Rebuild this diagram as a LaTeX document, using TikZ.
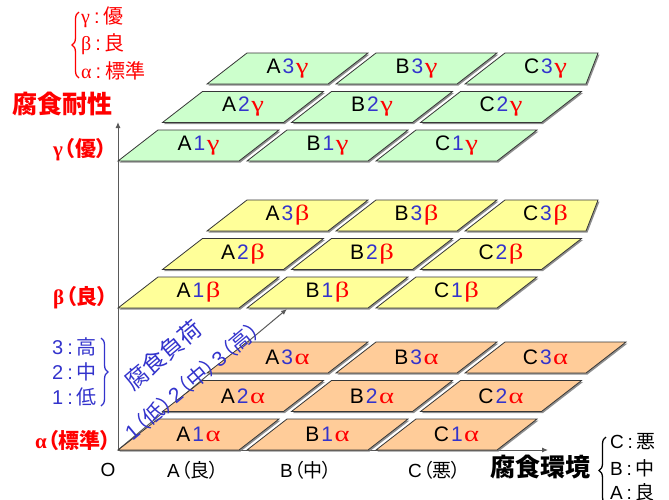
\documentclass[tikz,border=0pt]{standalone}
\usepackage{fontspec}
\setmainfont{Liberation Sans}
\newfontfamily\jp[RawFeature=+palt]{Noto Sans CJK JP}
\newfontfamily\gk{Liberation Serif}
\usetikzlibrary{shadows,decorations.pathreplacing,arrows.meta}
\definecolor{cgreen}{RGB}{204,255,204}
\definecolor{cyellow}{RGB}{255,255,153}
\definecolor{corange}{RGB}{255,204,153}
\definecolor{dblue}{RGB}{51,51,204}
\definecolor{edgegray}{RGB}{55,55,55}
\newcommand\mycell[8]{%
  \filldraw[cellbox, fill=#4] (#2,#3) -- ++(121,0) -- ++(#8,-31) -- (#2+40,#3-31) -- cycle;
  \node[celltext] (#1) at (#2+80.5,#3-15.5) {#5\hspace{2pt}\textcolor{dblue}{#6}\hspace{1.5pt}{\gk\fontsize{22}{22}\selectfont\textcolor{red}{\scalebox{1.3}[1]{#7}}}};}
\begin{document}
\begin{tikzpicture}[x=1pt,y=-1pt,
  cellbox/.style={draw=edgegray, line width=0.8pt,
    drop shadow={shadow xshift=1.5pt, shadow yshift=-1.5pt, fill=black!55, opacity=0.8}},
  celltext/.style={font=\fontsize{21}{21}\selectfont, inner sep=0pt},
  axisline/.style={draw=black!65, line width=1pt, -{Latex[length=6pt,width=5pt]}},
  redlab/.style={text=red, font=\jp\bfseries\fontsize{21}{21}\selectfont, inner sep=0pt, anchor=west},
  botlab/.style={text=black, font=\fontsize{19}{19}\selectfont, inner sep=0pt, anchor=west},
  legred/.style={text=red, font=\fontsize{20}{20}\selectfont, inner sep=0pt, anchor=west},
  legblue/.style={text=dblue, font=\fontsize{20}{20}\selectfont, inner sep=0pt, anchor=west},
  legblack/.style={text=black, font=\fontsize{19}{19}\selectfont, inner sep=0pt, anchor=west},
  bigtitle/.style={font=\jp\bfseries\fontsize{25}{25}\selectfont, inner sep=0pt},
  bracestyle/.style={decorate, decoration={brace, amplitude=7pt}, line width=1.3pt}
]
\useasboundingbox (0,0) rectangle (669,499);
% axes
\coordinate (O) at (118,450);
\coordinate (ytop) at (118,122);
\coordinate (xend) at (548,450);
\coordinate (dend) at (287,309);
\draw[axisline] (O) -- (ytop);
\draw[axisline] (O) -- (xend);
\draw[axisline] (O) -- (dend);
% cells
\foreach \lay/\gr/\fc/\yb/\cs in {g/γ/cgreen/161/12, b/β/cyellow/308/12, a/α/corange/450/40}{
  \foreach \r/\rx/\ry/\rs in {3/89/77/\cs, 2/44.5/38.5/40, 1/0/0/40}{
    \foreach \c/\cx/\s in {A/0/40, B/129/40, C/258/\rs}{
      \mycell{cell\c\r\lay}{118+\rx+\cx}{\yb-\ry}{\fc}{\c}{\r}{\gr}{\s}
    }
  }
}
% y-axis labels
\node[redlab] (lgam) at (53,150) {{\gk γ}\hspace{1.5pt}（優）};
\node[redlab] (lbet) at (53,298) {{\gk β}\hspace{1.5pt}（良）};
\node[redlab] (lalp) at (35,441) {{\gk α}\hspace{1.5pt}（標準）};
% x-axis labels
\node[botlab, anchor=center] (lO) at (108,470) {O};
\node[botlab] (lA) at (167,470) {A\hspace{1pt}{\jp （良）}};
\node[botlab] (lB) at (280,470) {B\hspace{1pt}{\jp （中）}};
\node[botlab] (lC) at (408,470) {C\hspace{1pt}{\jp （悪）}};
% axis titles
\node[bigtitle, text=red, anchor=west] (tres) at (12,104) {腐食耐性};
\node[bigtitle, text=black, anchor=west] (tenv) at (490,467) {腐食環境};
\node[text=dblue, font=\jp\fontsize{23}{23}\selectfont, inner sep=0pt, rotate=40] (tload) at (163,355) {腐食負荷};
\node[text=dblue, font=\fontsize{21}{21}\selectfont, inner sep=0pt, rotate=40] (tlev) at (192,381)
  {1\hspace{1.5pt}{\jp （低）}\hspace{1.5pt}2\hspace{1.5pt}{\jp （中）}\hspace{1.5pt}3\hspace{1.5pt}{\jp （高）}};
% top-left legend
\draw[bracestyle, red] (79,78) -- (79,12);
\node[legred] (lg1) at (81,17) {{\gk γ}\hspace{0.2em}:\hspace{0.2em}{\jp 優}};
\node[legred] (lg2) at (81,44) {{\gk β}\hspace{0.2em}:\hspace{0.2em}{\jp 良}};
\node[legred] (lg3) at (81,71) {{\gk α}\hspace{0.2em}:\hspace{0.2em}{\jp 標準}};
% left blue legend
\draw[bracestyle, dblue] (101,338) -- (101,406);
\node[legblue] (lb3) at (52,347) {3\hspace{0.2em}:\hspace{0.2em}{\jp 高}};
\node[legblue] (lb2) at (52,372) {2\hspace{0.2em}:\hspace{0.2em}{\jp 中}};
\node[legblue] (lb1) at (52,397) {1\hspace{0.2em}:\hspace{0.2em}{\jp 低}};
% bottom right legend
\draw[bracestyle, black] (606,504) -- (606,437);
\node[legblack] (lc) at (610,442) {C\hspace{0.2em}:\hspace{0.2em}{\jp 悪}};
\node[legblack] (lbm) at (610,468) {B\hspace{0.2em}:\hspace{0.2em}{\jp 中}};
\node[legblack] (la) at (610,492) {A\hspace{0.2em}:\hspace{0.2em}{\jp 良}};
\end{tikzpicture}
\end{document}
